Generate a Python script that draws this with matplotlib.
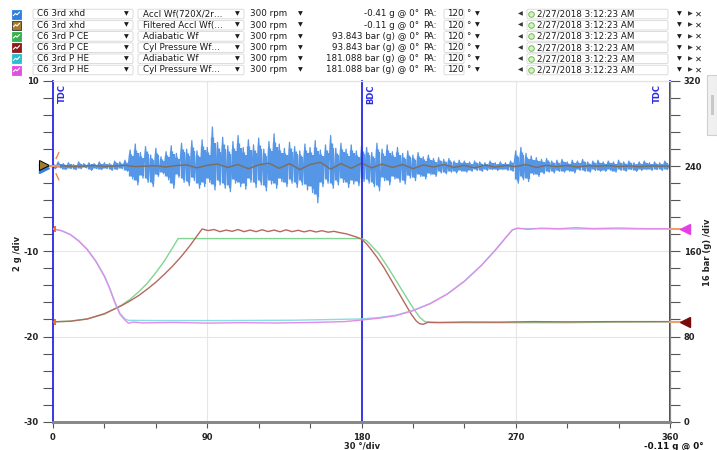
"""
Compressor C6 3rd stage: accel waveform + CE/HE pressure traces vs crank angle.
"""
import numpy as np
import matplotlib
matplotlib.use("Agg")
import matplotlib.pyplot as plt
from matplotlib.patches import Rectangle, FancyBboxPatch
from matplotlib.ticker import MultipleLocator, FuncFormatter
from matplotlib.transforms import blended_transform_factory

W, H = 717, 450

# ---- header rows ------------------------------------------------------------
row_points = ["C6 3rd xhd", "C6 3rd xhd", "C6 3rd P CE", "C6 3rd P CE",
              "C6 3rd P HE", "C6 3rd P HE"]
row_waves = ["Accl Wf(720X/2r…", "Filtered Accl Wf(…", "Adiabatic Wf",
             "Cyl Pressure Wf…", "Adiabatic Wf", "Cyl Pressure Wf…"]
row_values = ["-0.41 g @ 0°", "-0.11 g @ 0°", "93.843 bar (g) @ 0°",
              "93.843 bar (g) @ 0°", "181.088 bar (g) @ 0°",
              "181.088 bar (g) @ 0°"]
row_colors = ["#2f7fe0", "#a47c2c", "#33b24a", "#8e1c1c", "#2cbcd0", "#e24ee2"]
row_speed = "300 rpm"
row_pa = "120"
row_time = "2/27/2018 3:12:23 AM"

# ---- accel waveform (g), peaks every 3 deg, troughs offset 1.5 deg ----------
acc_hi = [0.3, 0.5, 0.3, 0.4, 0.2, 0.5, 0.3, 0.4, 0.3, 0.5, 0.4, 0.3, 0.6, 0.5,
          0.7, 1.9, 2.6, 1.6, 2.3, 1.3, 2.1, 1.1, 1.7, 2.4, 1.5, 2.7, 2.0, 3.0,
          1.8, 3.1, 2.2, 4.6, 2.8, 3.4, 2.4, 2.9, 3.6, 2.2, 3.1, 2.5, 3.3, 2.0,
          2.9, 3.8, 2.6, 2.1, 2.8, 2.3, 1.8, 2.6, 2.2, 3.0, 1.9, 2.5, 3.6, 2.1,
          2.7, 2.0, 2.5, 1.8, 2.3, 2.2, 1.6, 2.7, 2.0, 2.5, 1.7, 2.2, 1.5, 1.8,
          1.3, 1.6, 1.1, 1.3, 0.9, 1.0, 0.8, 0.9, 0.6, 0.7, 0.6, 0.5, 0.6, 0.5,
          0.4, 0.6, 0.4, 0.5, 0.4, 0.6, 1.8, 2.2, 1.5, 1.2, 1.0, 0.8, 0.9, 0.6,
          0.7, 0.8, 0.5, 0.7, 0.6, 0.8, 0.5, 0.6, 0.7, 0.5, 0.6, 0.5, 0.7, 0.5,
          0.6, 0.4, 0.5, 0.6, 0.4, 0.5, 0.4, 0.6, 0.4]
acc_lo = [-0.3, -0.2, -0.4, -0.3, -0.4, -0.3, -0.2, -0.5, -0.3, -0.4, -0.3,
          -0.5, -0.4, -0.3, -0.6, -1.5, -2.2, -1.4, -1.9, -2.4, -1.2, -0.9,
          -1.6, -2.6, -1.3, -1.9, -2.3, -1.7, -2.6, -2.4, -1.9, -2.8, -2.2,
          -2.6, -3.0, -2.0, -2.4, -2.7, -1.9, -2.5, -2.2, -2.9, -2.1, -2.6,
          -1.8, -2.4, -2.0, -2.5, -2.2, -2.8, -3.1, -4.3, -2.4, -2.0, -2.6,
          -2.2, -1.9, -2.5, -2.1, -2.3, -1.8, -2.0, -2.4, -2.9, -1.7, -2.2,
          -1.5, -1.9, -2.1, -1.4, -1.7, -1.2, -1.5, -1.0, -1.2, -0.8, -0.9,
          -0.7, -0.8, -0.6, -0.7, -0.6, -0.5, -0.6, -0.5, -0.4, -0.5, -0.4,
          -0.5, -0.6, -2.0, -1.6, -1.8, -1.0, -1.2, -0.9, -0.7, -0.8, -0.6,
          -0.7, -0.6, -0.8, -0.5, -0.6, -0.7, -0.5, -0.6, -0.6, -0.5, -0.7,
          -0.5, -0.6, -0.4, -0.6, -0.5, -0.4, -0.5, -0.4, -0.5, -0.4, -0.3]
filt_acc = [0.0, 0.05, -0.05, 0.0, 0.08, -0.04, 0.02, 0.1, -0.05, 0.0, 0.05,
            -0.1, 0.08, 0.15, -0.2, 0.1, 0.25, -0.15, 0.2, -0.3, 0.15, 0.35,
            -0.25, 0.3, -0.4, 0.2, 0.45, -0.35, 0.3, -0.25, 0.35, -0.2, 0.25,
            -0.15, 0.2, -0.3, 0.15, -0.1, 0.2, -0.15, 0.1, -0.2, 0.12, -0.1,
            0.08, -0.05, 0.2, -0.15, 0.1, -0.05, 0.08, -0.1, 0.05, 0.0, 0.07,
            -0.05, 0.04, -0.06, 0.03, 0.0, 0.02]

# ---- pressure traces (bar g) -----------------------------------------------
ce_adi_deg = [0, 10, 20, 30, 36, 40, 45, 50, 55, 60, 65, 70, 73, 180, 183,
              186, 190, 195, 200, 205, 210, 214, 217, 220, 300, 330, 360]
ce_adi_bar = [93.8, 94.5, 96.5, 101, 106, 109.5, 115, 122, 130, 140, 151, 164,
              172, 172, 170, 165, 158, 146, 133, 120, 107, 98, 94, 93.0, 93.0,
              93.6, 93.8]
ce_cyl_deg = [0, 10, 20, 30, 36, 40, 45, 50, 55, 60, 65, 70, 75, 80, 84, 87,
              90.5, 94, 97.5, 101, 104.5, 108, 111.5, 115, 118.5, 122, 125.5,
              129, 132.5, 136, 139.5, 143, 146.5, 150, 153.5, 157, 160.5, 164,
              167.5, 171, 174, 177, 180, 183, 186, 189, 193, 197, 201, 205,
              209, 212, 214, 216, 219, 225, 240, 260, 280, 300, 330, 360]
ce_cyl_bar = [93.8, 94.3, 96.5, 101.5, 106, 109, 113.5, 118.5, 124.5, 131,
              138.5, 146.5, 155.5, 165.5, 174.5, 181, 179.5, 180.5, 178.5, 180,
              178.8, 180.5, 178.5, 180, 178.5, 180.3, 178.6, 180, 178.4, 180.2,
              178.5, 179.8, 178.3, 179.6, 178.2, 179.4, 178, 178.8, 177.5,
              176.5, 175, 173.5, 171.5, 167, 161, 154.5, 145, 134, 123, 112,
              101, 94.5, 92, 91.5, 93.5, 93.2, 93.6, 93.5, 94, 93.8, 94, 94]
he_adi_deg = [0, 5, 10, 15, 20, 25, 30, 33, 36, 39, 42, 44, 60, 100, 140, 180,
              190, 200, 210, 220, 230, 240, 250, 258, 264, 268, 271, 300, 330,
              360]
he_adi_bar = [181, 179.5, 176, 170, 162, 151, 137, 126, 113, 102, 96.5, 95.2,
              95.0, 95.0, 95.3, 96.5, 97.8, 100, 104.5, 111, 120, 132, 147,
              161, 172.5, 180, 181.5, 181, 181, 181]
he_cyl_deg = [0, 5, 10, 15, 20, 25, 30, 33, 36, 39, 42, 44, 47, 52, 70, 90,
              110, 130, 150, 170, 180, 190, 200, 210, 220, 230, 240, 250, 258,
              264, 268, 271, 277, 285, 295, 305, 315, 330, 345, 360]
he_cyl_bar = [181.1, 179.3, 175.8, 169.7, 161.6, 150.5, 136.4, 125.3, 112.2,
              101, 95.4, 92.5, 93.6, 92.8, 93.2, 92.6, 93.0, 92.7, 93.2, 94,
              95.5, 97.2, 99.6, 104.2, 110.8, 119.8, 131.8, 146.8, 161, 172.6,
              180.2, 181.8, 180.6, 181.8, 181.2, 182.2, 181.4, 181.9, 181.3,
              181.2]

ce_value = 93.843
he_value = 181.088

fig = plt.figure(figsize=(W / 100, H / 100), dpi=100, facecolor="white")
plt.rcParams["font.family"] = ["DejaVu Sans"]

# overlay in pixel coords for header / outer labels
hx = fig.add_axes([0, 0, 1, 1])
hx.set_xlim(0, W)
hx.set_ylim(H, 0)
hx.axis("off")

# ---- main axes ---------------------------------------------------------------
x0, x1, y0, y1 = 53, 670, 81, 421.7
ax = fig.add_axes([x0 / W, 1 - y1 / H, (x1 - x0) / W, (y1 - y0) / H])
ax.set_xlim(0, 360)
ax.set_ylim(-30, 10)
ax2 = ax.twinx()
ax2.set_ylim(0, 320)

ax.set_xticks([0, 90, 180, 270, 360])
ax.xaxis.set_minor_locator(MultipleLocator(30))
ax.set_yticks([-30, -20, -10, 0, 10])
ax.yaxis.set_minor_locator(MultipleLocator(2))
ax.yaxis.set_major_formatter(FuncFormatter(lambda v, p: "" if v == 0 else f"{v:.0f}"))
ax2.set_yticks([0, 80, 160, 240, 320])
ax2.yaxis.set_minor_locator(MultipleLocator(16))

ax.grid(True, which="major", color="#e6e6e6", lw=0.8)
ax.set_axisbelow(True)
for a in (ax, ax2):
    a.tick_params(which="both", direction="out", color="#555555", width=0.8,
                  labelsize=6, labelcolor="#222222")
ax.tick_params(axis="y", which="both", length=7, pad=3)
ax2.tick_params(axis="y", which="both", length=7, pad=3)
ax.tick_params(axis="x", which="both", length=4, pad=4)
for lbl in ax.get_xticklabels() + ax.get_yticklabels() + ax2.get_yticklabels():
    lbl.set_fontweight("bold")

for a in (ax, ax2):
    a.spines["left"].set_visible(False)
    a.spines["top"].set_color("#e4e4e4")
    a.spines["right"].set_color("#888888")
    a.spines["bottom"].set_color("#888888")
    a.spines["bottom"].set_linewidth(2)

# crank markers
blue = "#2a2ae6"
for deg in (0, 180, 360):
    ax.axvline(deg, color=blue, lw=1.3, zorder=6, clip_on=False)
tr = blended_transform_factory(ax.transData, ax.transAxes)
for deg, name, dx in ((0, "TDC", 5.5), (180, "BDC", 5.5), (360, "TDC", -7.5)):
    ax.text(deg + dx, 0.99, name, transform=tr, rotation=90, ha="center",
            va="top", color=blue, fontsize=6, fontweight="bold")

# accel waveform: vertical strokes plus zigzag between peaks and troughs
n = min(len(acc_hi), len(acc_lo))
deg_hi = np.arange(n) * 3.0
hi = np.array(acc_hi[:n])
lo = np.array(acc_lo[:n])
acc_col = "#5596e6"
ax.vlines(deg_hi, lo * 0.75, hi * 0.75, color=acc_col, lw=2.4, zorder=3)
ax.vlines(deg_hi + 1.5, lo * 0.85, hi * 0.6, color=acc_col, lw=1.6, zorder=3)
wave_x = np.column_stack([deg_hi, deg_hi + 1.5]).ravel()
wave_y = np.column_stack([hi, lo]).ravel()
ax.plot(wave_x, wave_y, color=acc_col, lw=0.9, zorder=3)
ax.plot(np.linspace(0, 360, len(filt_acc)), filt_acc, color="#7d6d5a",
        lw=1.0, zorder=4)

# pressure traces
ax2.plot(ce_adi_deg, ce_adi_bar, color="#82d492", lw=1.0, zorder=3)
ax2.plot(ce_cyl_deg, ce_cyl_bar, color="#b8675f", lw=1.0, zorder=4)
ax2.plot(he_adi_deg, he_adi_bar, color="#86dde9", lw=1.0, zorder=3)
ax2.plot(he_cyl_deg, he_cyl_bar, color="#e28ce8", lw=1.0, zorder=4)

# value markers on the axes
tb = blended_transform_factory(ax2.transAxes, ax2.transData)
for val, col in ((he_value, "#e63ee6"), (ce_value, "#7a0a0a")):
    ax2.plot([1.0, 1.016], [val, val], color="#f0a070", lw=1.5,
             transform=tb, clip_on=False, zorder=7)
    ax2.plot([1.024], [val], marker="<", ms=7, color=col, transform=tb,
             clip_on=False, zorder=7)
    ax2.plot([0.003], [val], marker="|", ms=5, mew=1.5, color="#f07030",
             transform=tb, clip_on=False, zorder=8)

ta = blended_transform_factory(ax.transAxes, ax.transData)
ax.plot([-0.014], [-0.25], marker=">", ms=7, color="#2f7fe0", transform=ta,
        clip_on=False, zorder=7)
ax.plot([-0.014], [0.15], marker=">", ms=7, color="#a47c2c", mec="black",
        mew=0.7, transform=ta, clip_on=False, zorder=8)
ax.plot([-0.005, 0.01], [0, 0], color="#f09060", lw=1.5, transform=ta,
        clip_on=False, zorder=8)
ax.plot([1.8, 3.4], [0.9, 1.6], color="#f07a40", lw=0.9, zorder=8)
ax.plot([1.8, 3.4], [-0.9, -1.6], color="#f07a40", lw=0.9, zorder=8)

# outer axis captions
hx.text(17, 253, "2 g /div", rotation=90, ha="center", va="center",
        fontsize=6, fontweight="bold", color="#222222")
hx.text(707, 252, "16 bar (g) /div", rotation=90, ha="center", va="center",
        fontsize=6, fontweight="bold", color="#222222")
hx.text(362, 446, "30 °/div", ha="center", va="center", fontsize=6,
        fontweight="bold", color="#222222")
hx.text(704, 446, "-0.11 g @ 0°", ha="right", va="center", fontsize=6.3,
        fontweight="bold", color="#111111")

# scrollbar stub
hx.add_patch(Rectangle((707, 75), 10, 60, facecolor="#f0f0f0",
                       edgecolor="#cfcfcf", lw=0.8))
hx.add_patch(Rectangle((711, 95), 3, 20, facecolor="#c8c8c8", edgecolor="none"))

# ---- header table ------------------------------------------------------------
fs = 6.3
txt = "#1a1a1a"
for i, (pt, wv, val, col) in enumerate(zip(row_points, row_waves, row_values,
                                           row_colors)):
    yc = 14 + i * 11.2
    hx.add_patch(Rectangle((12, yc - 4.5), 9, 9, facecolor=col,
                           edgecolor="#333333" if i == 1 else col, lw=0.6))
    hx.plot([13.5, 15.5, 17, 19.5], [yc + 1.5, yc - 0.5, yc + 0.8, yc - 1.8],
            color="white", lw=0.8)
    for bx, bw in ((33, 100), (138, 106), (444, 20), (527, 141)):
        hx.add_patch(FancyBboxPatch((bx, yc - 4.8), bw, 9.6,
                                    boxstyle="round,pad=0,rounding_size=1.5",
                                    facecolor="white", edgecolor="#d6d6d6",
                                    lw=0.6))
    hx.text(37, yc, pt, fontsize=fs, color=txt, va="center")
    hx.text(126, yc, "▼", fontsize=4.5, color=txt, va="center", ha="center")
    hx.text(143, yc, wv, fontsize=fs, color=txt, va="center")
    hx.text(237, yc, "▼", fontsize=4.5, color=txt, va="center", ha="center")
    hx.text(250, yc, row_speed, fontsize=fs, color=txt, va="center")
    hx.text(300, yc, "▼", fontsize=4.5, color=txt, va="center", ha="center")
    hx.text(419, yc, val, fontsize=fs, color=txt, va="center", ha="right")
    hx.text(423, yc, "PA:", fontsize=fs, color=txt, va="center")
    hx.text(447, yc, row_pa, fontsize=fs, color=txt, va="center")
    hx.text(468, yc, "°", fontsize=fs, color=txt, va="center", ha="center")
    hx.text(477, yc, "▼", fontsize=4.5, color=txt, va="center", ha="center")
    hx.text(520, yc, "◀", fontsize=4.5, color="#333333", va="center",
            ha="center")
    hx.plot([531], [yc], marker="o", ms=4, mfc="#d8f0c8", mec="#6cbf4a",
            mew=0.7)
    hx.text(537, yc, row_time, fontsize=fs, color=txt, va="center")
    hx.text(679, yc, "▼", fontsize=4.5, color=txt, va="center", ha="center")
    hx.text(690, yc, "▶", fontsize=4.5, color="#333333", va="center",
            ha="center")
    hx.text(698, yc, "✕", fontsize=6, color=txt, va="center", ha="center")

fig.savefig("out.png", dpi=100, facecolor="white")
